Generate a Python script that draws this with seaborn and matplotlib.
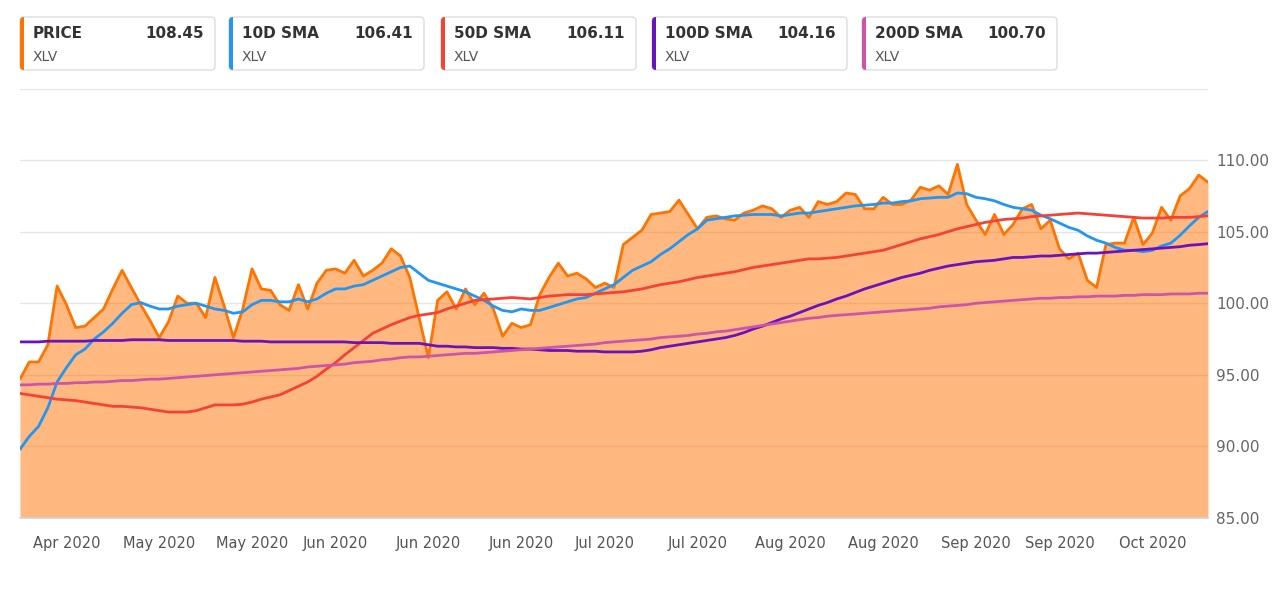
import numpy as np
import pandas as pd
import matplotlib
matplotlib.use("Agg")
import matplotlib.pyplot as plt
from matplotlib.patches import FancyBboxPatch, Rectangle
import seaborn as sns

# XLV daily close and moving averages, Apr 13 - Oct 13 2020
ticker = "XLV"
start_date = "2020-04-13"
end_date = "2020-10-13"
market_holidays = ["2020-05-25", "2020-07-03", "2020-09-07"]

price = [94.7, 95.9, 95.9, 97.1, 101.2, 99.9, 98.3, 98.4, 99.0, 99.6,
         101.0, 102.3, 101.1, 99.9, 98.8, 97.6, 98.7, 100.5, 100.0, 100.0,
         99.0, 101.8, 99.8, 97.6, 99.6, 102.4, 101.0, 100.9, 99.9, 99.5,
         101.3, 99.6, 101.4, 102.3, 102.4, 102.1, 103.0, 101.9, 102.3, 102.8,
         103.8, 103.3, 101.8, 99.0, 96.2, 100.2, 100.8, 99.6, 101.0, 99.9,
         100.7, 99.6, 97.7, 98.6, 98.3, 98.5, 100.6, 101.8, 102.8, 101.9,
         102.1, 101.7, 101.1, 101.4, 101.1, 104.1, 104.6, 105.1, 106.2, 106.3,
         106.4, 107.2, 106.2, 105.2, 106.0, 106.1, 105.9, 105.8, 106.3, 106.5,
         106.8, 106.6, 106.0, 106.5, 106.7, 106.0, 107.1, 106.9, 107.1, 107.7,
         107.6, 106.6, 106.6, 107.4, 106.9, 106.9, 107.2, 108.1, 107.9, 108.2,
         107.6, 109.7, 106.9, 105.8, 104.8, 106.2, 104.8, 105.5, 106.6, 106.9,
         105.2, 105.8, 103.8, 103.1, 103.5, 101.6, 101.1, 104.1, 104.2, 104.2,
         106.0, 104.1, 104.9, 106.7, 105.8, 107.5, 108.0, 108.95, 108.45]

sma10 = [89.8, 90.7, 91.4, 92.7, 94.5, 95.5, 96.4, 96.8, 97.5, 98.0,
         98.6, 99.3, 99.9, 100.05, 99.8, 99.6, 99.6, 99.8, 99.9, 100.0,
         99.8, 99.6, 99.5, 99.3, 99.4, 99.9, 100.2, 100.2, 100.1, 100.1,
         100.3, 100.1, 100.3, 100.7, 101.0, 101.0, 101.2, 101.3, 101.6, 101.9,
         102.2, 102.5, 102.6, 102.1, 101.6, 101.4, 101.2, 101.0, 100.8, 100.5,
         100.2, 99.8, 99.5, 99.4, 99.6, 99.5, 99.5, 99.7, 99.9, 100.1,
         100.3, 100.4, 100.7, 101.0, 101.3, 101.8, 102.3, 102.6, 102.9, 103.4,
         103.8, 104.3, 104.8, 105.2, 105.8, 105.9, 106.0, 106.1, 106.15, 106.2,
         106.2, 106.2, 106.1, 106.2, 106.3, 106.3, 106.4, 106.5, 106.6, 106.7,
         106.8, 106.85, 106.9, 107.0, 107.0, 107.1, 107.15, 107.3, 107.35, 107.4,
         107.4, 107.7, 107.65, 107.4, 107.3, 107.15, 106.9, 106.7, 106.6, 106.5,
         106.15, 105.9, 105.6, 105.3, 105.1, 104.7, 104.4, 104.2, 103.9, 103.7,
         103.7, 103.6, 103.7, 104.0, 104.2, 104.75, 105.4, 106.0, 106.41]

sma50 = [93.7, 93.6, 93.5, 93.4, 93.3, 93.25, 93.2, 93.1, 93.0, 92.9,
         92.8, 92.8, 92.75, 92.7, 92.6, 92.5, 92.4, 92.4, 92.4, 92.5,
         92.7, 92.9, 92.9, 92.9, 92.95, 93.1, 93.3, 93.45, 93.6, 93.9,
         94.2, 94.5, 94.9, 95.4, 95.85, 96.4, 96.9, 97.4, 97.9, 98.2,
         98.5, 98.75, 99.0, 99.15, 99.25, 99.35, 99.6, 99.8, 100.0, 100.2,
         100.25, 100.3, 100.35, 100.4, 100.35, 100.3, 100.4, 100.5, 100.55, 100.6,
         100.6, 100.6, 100.65, 100.7, 100.75, 100.8, 100.9, 101.0, 101.15, 101.3,
         101.4, 101.5, 101.65, 101.8, 101.9, 102.0, 102.1, 102.2, 102.35, 102.5,
         102.6, 102.7, 102.8, 102.9, 103.0, 103.1, 103.1, 103.15, 103.2, 103.3,
         103.4, 103.5, 103.6, 103.7, 103.9, 104.1, 104.3, 104.5, 104.65, 104.8,
         105.0, 105.2, 105.35, 105.5, 105.65, 105.75, 105.85, 105.9, 105.95, 106.05,
         106.1, 106.15, 106.2, 106.25, 106.3, 106.25, 106.2, 106.15, 106.1, 106.05,
         106.0, 105.95, 105.95, 105.95, 106.0, 106.0, 106.0, 106.05, 106.11]

sma100 = [97.3, 97.3, 97.3, 97.35, 97.35, 97.35, 97.35, 97.35, 97.4, 97.4,
          97.4, 97.4, 97.45, 97.45, 97.45, 97.45, 97.4, 97.4, 97.4, 97.4,
          97.4, 97.4, 97.4, 97.4, 97.35, 97.35, 97.35, 97.3, 97.3, 97.3,
          97.3, 97.3, 97.3, 97.3, 97.3, 97.3, 97.25, 97.25, 97.25, 97.25,
          97.2, 97.2, 97.2, 97.2, 97.1, 97.0, 97.0, 96.95, 96.95, 96.9,
          96.9, 96.9, 96.85, 96.85, 96.8, 96.8, 96.75, 96.7, 96.7, 96.7,
          96.65, 96.65, 96.65, 96.6, 96.6, 96.6, 96.6, 96.65, 96.75, 96.9,
          97.0, 97.1, 97.2, 97.3, 97.4, 97.5, 97.6, 97.75, 97.95, 98.2,
          98.4, 98.65, 98.9, 99.1, 99.35, 99.6, 99.85, 100.05, 100.3, 100.5,
          100.75, 101.0, 101.2, 101.4, 101.6, 101.8, 101.95, 102.1, 102.3, 102.45,
          102.6, 102.7, 102.8, 102.9, 102.95, 103.0, 103.1, 103.2, 103.2, 103.25,
          103.3, 103.3, 103.35, 103.4, 103.45, 103.5, 103.5, 103.55, 103.6, 103.65,
          103.7, 103.75, 103.8, 103.85, 103.9, 103.95, 104.05, 104.1, 104.16]

sma200 = [94.30, 94.30, 94.35, 94.35, 94.40, 94.40, 94.45, 94.45, 94.50, 94.50,
          94.55, 94.60, 94.60, 94.65, 94.70, 94.70, 94.75, 94.80, 94.85, 94.90,
          94.95, 95.00, 95.05, 95.10, 95.15, 95.20, 95.25, 95.30, 95.35, 95.40,
          95.45, 95.55, 95.60, 95.65, 95.70, 95.75, 95.85, 95.90, 95.95, 96.05,
          96.10, 96.20, 96.25, 96.25, 96.30, 96.35, 96.40, 96.45, 96.50, 96.50,
          96.55, 96.60, 96.65, 96.70, 96.75, 96.80, 96.85, 96.90, 96.95, 97.00,
          97.05, 97.10, 97.15, 97.25, 97.30, 97.35, 97.40, 97.45, 97.50, 97.60,
          97.65, 97.70, 97.75, 97.85, 97.90, 98.00, 98.05, 98.15, 98.25, 98.35,
          98.45, 98.55, 98.65, 98.75, 98.85, 98.95, 99.00, 99.10, 99.15, 99.20,
          99.25, 99.30, 99.35, 99.40, 99.45, 99.50, 99.55, 99.60, 99.65, 99.75,
          99.80, 99.85, 99.90, 100.00, 100.05, 100.10, 100.15, 100.20, 100.25, 100.30,
          100.35, 100.35, 100.40, 100.40, 100.45, 100.45, 100.50, 100.50, 100.50, 100.55,
          100.55, 100.60, 100.60, 100.60, 100.65, 100.65, 100.65, 100.70, 100.70]

series_names = ["PRICE", "10D SMA", "50D SMA", "100D SMA", "200D SMA"]
series_colors = ["#FF7300", "#2196F3", "#F44336", "#6A12BE", "#CC55AA"]
y_ticks = [85, 90, 95, 100, 105, 110, 115]

# trading-day axis
dates = pd.bdate_range(start_date, end_date, freq="C", holidays=market_holidays)
idx = np.arange(len(dates))
all_series = [price, sma10, sma50, sma100, sma200]

sns.set_style("white")
plt.rcParams["font.family"] = ["DejaVu Sans"]

fig = plt.figure(figsize=(12.8, 6.06), dpi=100)
ax = fig.add_axes([20 / 1280, 1 - 518 / 606, 1188 / 1280, (518 - 88.5) / 606])

ax.set_ylim(85, 115)
ax.set_xlim(0, len(dates) - 1)
for yv in y_ticks:
    ax.axhline(yv, color="#e6e6e6", lw=1, zorder=0)

ax.fill_between(idx, price, 85, color="#FF7300", alpha=0.5, lw=0, zorder=1)
for vals, col in zip(all_series, series_colors):
    sns.lineplot(x=idx, y=vals, color=col, lw=2.0, ax=ax, zorder=2)

# x ticks every two weeks from Apr 20
tick_dates = pd.date_range("2020-04-20", "2020-10-05", freq="14D")
tick_pos = dates.searchsorted(tick_dates)
ax.set_xticks(tick_pos)
ax.set_xticklabels([d.strftime("%b %Y") for d in tick_dates], fontsize=10.5, color="#555555")
ax.tick_params(axis="x", length=7, width=1, color="#ccd6eb", pad=6)

ax.yaxis.tick_right()
ax.set_yticks(y_ticks)
ax.set_yticklabels([f"{v:.2f}" if v < 115 else "" for v in y_ticks], fontsize=11, color="#666666")
ax.tick_params(axis="y", length=0, pad=6)

for s in ["top", "left", "right"]:
    ax.spines[s].set_visible(False)
ax.spines["bottom"].set_color("#ccd6eb")
ax.spines["bottom"].set_linewidth(1.2)
ax.set_xlabel("")
ax.set_ylabel("")

# legend cards along the top
card_left = [20, 229, 441, 652, 862]
card_w = 195
tr = fig.dpi_scale_trans
for name, vals, col, x0 in zip(series_names, all_series, series_colors, card_left):
    box = FancyBboxPatch((x0 / 100, (606 - 70) / 100), card_w / 100, 53 / 100,
                         boxstyle="round,pad=0,rounding_size=0.04",
                         transform=tr, facecolor="white", edgecolor="#dddddd", lw=1)
    fig.add_artist(box)
    bar = Rectangle((x0 / 100, (606 - 70) / 100), 4 / 100, 53 / 100,
                    transform=tr, facecolor=col, edgecolor="none")
    fig.add_artist(bar)
    bar.set_clip_path(box)
    fig.text((x0 + 13) / 1280, 1 - 33 / 606, name, fontsize=11, fontweight="bold",
             color="#333333", va="center", ha="left")
    fig.text((x0 + card_w - 11) / 1280, 1 - 33 / 606, f"{vals[-1]:.2f}", fontsize=11,
             fontweight="bold", color="#333333", va="center", ha="right")
    fig.text((x0 + 13) / 1280, 1 - 57 / 606, ticker, fontsize=10, color="#555555",
             va="center", ha="left")

plt.savefig("out.png", dpi=100)
